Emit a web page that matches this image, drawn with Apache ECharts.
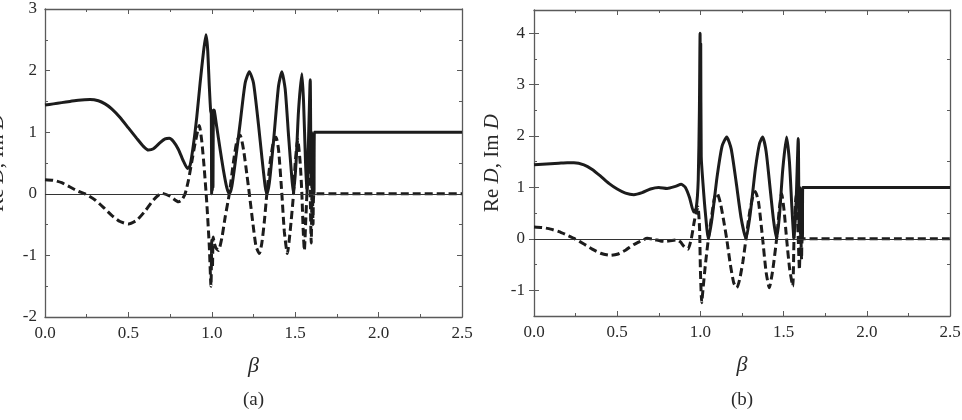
<!DOCTYPE html>
<html>
<head>
    <meta charset="utf-8">
    <title>Re D, Im D</title>
    <script src="https://cdn.jsdelivr.net/npm/echarts@6/dist/echarts.min.js"></script>
    <style>
        html, body { margin: 0; padding: 0; background: #fff; }
        #chart { width: 962px; height: 420px; }
    </style>
</head>
<body>
<div id="chart"></div>
<script>
    // panel (a)
    var betaReA = [0, 0.05, 0.1, 0.15, 0.2, 0.27, 0.32, 0.36, 0.4, 0.45, 0.5, 0.55, 0.59, 0.62, 0.65, 0.69, 0.72, 0.745, 0.77, 0.8, 0.83, 0.855, 0.87, 0.89, 0.91, 0.93, 0.95, 0.965, 0.975, 0.985, 0.993, 0.997, 0.999, 1.001, 1.003, 1.005, 1.007, 1.01, 1.015, 1.03, 1.05, 1.07, 1.09, 1.105, 1.12, 1.14, 1.17, 1.2, 1.225, 1.25, 1.28, 1.3, 1.32, 1.33, 1.345, 1.37, 1.4, 1.42, 1.44, 1.46, 1.48, 1.49, 1.505, 1.52, 1.54, 1.55, 1.562, 1.57, 1.58, 1.59, 1.595, 1.598, 1.601, 1.604, 1.607, 1.61, 1.613, 1.615, 2.5];
    var reA = [1.44, 1.46, 1.48, 1.50, 1.52, 1.53, 1.51, 1.46, 1.38, 1.24, 1.07, 0.90, 0.77, 0.71, 0.73, 0.83, 0.89, 0.90, 0.85, 0.72, 0.53, 0.41, 0.46, 0.8, 1.25, 1.8, 2.3, 2.58, 2.35, 1.75, 1.35, 1.3, 0.0, 1.3, 0.05, 1.35, 0.1, 1.36, 1.35, 1.08, 0.72, 0.38, 0.1, 0.0, 0.12, 0.5, 1.15, 1.8, 1.98, 1.8, 1.12, 0.6, 0.12, 0.0, 0.18, 0.85, 1.75, 1.98, 1.7, 0.95, 0.25, 0.0, 0.5, 1.35, 1.95, 1.5, 0.5, 0.0, 0.9, 1.85, 0.2, 1.0, 0.1, 0.95, 0.05, 0.9, 0.0, 1.0, 1.0];
    var betaImA = [0, 0.05, 0.1, 0.15, 0.2, 0.24, 0.3, 0.35, 0.4, 0.45, 0.5, 0.55, 0.6, 0.65, 0.7, 0.75, 0.8, 0.82, 0.84, 0.86, 0.88, 0.9, 0.925, 0.94, 0.955, 0.97, 0.985, 0.995, 1.0, 1.004, 1.008, 1.015, 1.025, 1.04, 1.06, 1.08, 1.105, 1.13, 1.15, 1.17, 1.19, 1.21, 1.225, 1.245, 1.265, 1.285, 1.3, 1.315, 1.33, 1.35, 1.37, 1.385, 1.4, 1.42, 1.435, 1.453, 1.47, 1.49, 1.5, 1.515, 1.53, 1.54, 1.548, 1.555, 1.563, 1.57, 1.578, 1.584, 1.59, 1.596, 1.602, 1.607, 1.613, 2.5];
    var imA = [0.23, 0.22, 0.18, 0.11, 0.04, 0.0, -0.1, -0.22, -0.35, -0.45, -0.49, -0.43, -0.28, -0.1, 0.01, -0.04, -0.13, -0.1, 0.0, 0.22, 0.52, 0.82, 1.11, 0.85, 0.4, -0.15, -0.85, -1.5, -0.75, -1.2, -0.7, -0.8, -0.88, -0.92, -0.72, -0.38, 0.0, 0.52, 0.85, 0.95, 0.72, 0.32, 0.0, -0.45, -0.85, -0.97, -0.8, -0.45, 0.0, 0.52, 0.85, 0.92, 0.72, 0.0, -0.62, -0.97, -0.6, 0.0, 0.5, 0.88, 0.5, 0.0, -0.6, -0.92, -0.45, 0.0, 0.7, 0.85, 0.0, -0.8, 0.3, -0.5, 0.0, 0.0];

    // panel (b)
    var betaReB = [0, 0.05, 0.1, 0.15, 0.2, 0.24, 0.3, 0.35, 0.4, 0.45, 0.5, 0.55, 0.6, 0.65, 0.7, 0.75, 0.8, 0.85, 0.885, 0.91, 0.935, 0.96, 0.975, 0.987, 0.994, 0.998, 1.0, 1.002, 1.005, 1.015, 1.03, 1.048, 1.07, 1.1, 1.13, 1.158, 1.185, 1.215, 1.245, 1.274, 1.3, 1.33, 1.355, 1.374, 1.395, 1.42, 1.44, 1.458, 1.475, 1.495, 1.518, 1.535, 1.55, 1.5625, 1.575, 1.588, 1.593, 1.597, 1.601, 1.605, 1.609, 1.613, 1.615, 2.5];
    var reB = [1.44, 1.45, 1.46, 1.47, 1.48, 1.48, 1.44, 1.35, 1.22, 1.08, 0.97, 0.89, 0.86, 0.9, 0.97, 1.0, 0.98, 1.02, 1.06, 1.0, 0.8, 0.52, 0.6, 1.15, 2.5, 4.0, 2.0, 3.8, 1.6, 1.1, 0.5, 0.0, 0.4, 1.2, 1.8, 1.98, 1.75, 1.1, 0.4, 0.0, 0.5, 1.35, 1.85, 1.98, 1.7, 0.95, 0.35, 0.0, 0.45, 1.35, 1.98, 1.5, 0.6, 0.0, 0.7, 1.95, 0.2, 1.0, 0.1, 0.95, 0.05, 0.0, 1.0, 1.0];
    var betaImB = [0, 0.05, 0.1, 0.15, 0.2, 0.246, 0.3, 0.35, 0.4, 0.457, 0.5, 0.55, 0.6, 0.65, 0.68, 0.72, 0.76, 0.79, 0.83, 0.86, 0.88, 0.9, 0.925, 0.945, 0.965, 0.985, 0.995, 1.0, 1.008, 1.015, 1.03, 1.048, 1.07, 1.085, 1.1, 1.12, 1.14, 1.158, 1.18, 1.2, 1.218, 1.235, 1.255, 1.274, 1.295, 1.315, 1.33, 1.35, 1.374, 1.395, 1.414, 1.435, 1.458, 1.475, 1.488, 1.503, 1.518, 1.537, 1.555, 1.5625, 1.575, 1.582, 1.588, 1.595, 1.602, 1.608, 1.613, 2.5];
    var imB = [0.23, 0.22, 0.19, 0.14, 0.07, 0.0, -0.1, -0.2, -0.28, -0.32, -0.3, -0.22, -0.11, -0.03, 0.01, -0.01, -0.04, -0.05, -0.03, -0.02, -0.06, -0.14, -0.2, 0.0, 0.37, 0.62, 0.2, -0.6, -1.24, -1.0, -0.5, 0.0, 0.5, 0.8, 0.89, 0.7, 0.35, 0.0, -0.5, -0.85, -0.95, -0.8, -0.45, 0.0, 0.5, 0.82, 0.92, 0.7, 0.0, -0.65, -0.95, -0.6, 0.0, 0.6, 0.88, 0.55, 0.0, -0.6, -0.92, 0.0, 0.85, 0.5, 0.0, -0.6, 0.3, -0.4, 0.0, 0.0];

    var yTicksB = [-1, 0, 1, 2, 3, 4];
    var yMinorB = [-1.5, -0.5, 0.5, 1.5, 2.5, 3.5];

    function zip(xs, ys) {
        var out = [];
        for (var i = 0; i < xs.length; i++) out.push([xs[i], ys[i]]);
        return out;
    }

    var serif = '"Times New Roman", "Liberation Serif", Times, serif';
    var ink = '#1c1c1c';
    var axisCol = '#5a5a5a';
    var labelStyle = {fontFamily: serif, fontSize: 17, color: '#2a2a2a'};

    function xAx(grid, pos, labels) {
        return {
            type: 'value', gridIndex: grid, position: pos, min: 0, max: 2.5, interval: 0.5,
            axisLine: {show: true, onZero: false, lineStyle: {color: axisCol, width: 1.3}},
            axisTick: {show: true, inside: true, length: 5, lineStyle: {color: axisCol}},
            minorTick: {show: true, splitNumber: 2, length: 3, lineStyle: {color: axisCol}},
            splitLine: {show: false},
            axisLabel: labels ? Object.assign({show: true, margin: 8, formatter: function (v) { return v.toFixed(1); }}, labelStyle) : {show: false},
            name: labels ? 'β' : '', nameLocation: 'middle', nameGap: 38,
            nameTextStyle: {fontFamily: serif, fontSize: 22, fontStyle: 'italic', color: '#2a2a2a'}
        };
    }

    var yName = 'Re {i|D}, Im {i|D}';
    var yNameStyle = {
        fontFamily: serif, fontSize: 21, color: '#2a2a2a',
        rich: {i: {fontFamily: serif, fontSize: 21, fontStyle: 'italic', color: '#2a2a2a'}}
    };

    var chart = echarts.init(document.getElementById('chart'));
    var option = {
        backgroundColor: '#fff',
        animation: false,
        grid: [
            {left: 45, top: 9, width: 417, height: 308, outerBoundsMode: 'none', containLabel: false},
            {left: 534, top: 10, width: 416, height: 306, outerBoundsMode: 'none', containLabel: false}
        ],
        xAxis: [xAx(0, 'bottom', true), xAx(0, 'top', false), xAx(1, 'bottom', true), xAx(1, 'top', false)],
        yAxis: [
            {
                type: 'value', gridIndex: 0, position: 'left', min: -2, max: 3, interval: 1,
                axisLine: {show: true, onZero: false, lineStyle: {color: axisCol, width: 1.3}},
                axisTick: {show: true, inside: true, length: 5, lineStyle: {color: axisCol}},
                minorTick: {show: true, splitNumber: 2, length: 3, lineStyle: {color: axisCol}},
                splitLine: {show: false},
                axisLabel: Object.assign({margin: 8}, labelStyle),
                name: yName, nameLocation: 'middle', nameGap: 37, nameTextStyle: yNameStyle
            },
            {
                type: 'value', gridIndex: 0, position: 'right', min: -2, max: 3, interval: 1,
                axisLine: {show: true, onZero: false, lineStyle: {color: axisCol, width: 1.3}},
                axisTick: {show: true, inside: true, length: 5, lineStyle: {color: axisCol}},
                minorTick: {show: true, splitNumber: 2, length: 3, lineStyle: {color: axisCol}},
                splitLine: {show: false}, axisLabel: {show: false}
            },
            {
                type: 'value', gridIndex: 1, position: 'left', min: -1.5, max: 4.45, interval: 0.5,
                axisLine: {show: true, onZero: false, lineStyle: {color: axisCol, width: 1.3}},
                axisTick: {show: true, inside: true, length: 3, customValues: yMinorB, lineStyle: {color: axisCol}},
                splitLine: {show: false},
                axisLabel: Object.assign({margin: 9, customValues: yTicksB}, labelStyle),
                name: yName, nameLocation: 'middle', nameGap: 31, nameTextStyle: yNameStyle
            },
            {
                type: 'value', gridIndex: 1, position: 'right', min: -1.5, max: 4.45, interval: 0.5,
                axisLine: {show: true, onZero: false, lineStyle: {color: axisCol, width: 1.3}},
                axisTick: {show: true, inside: true, length: 3, customValues: yMinorB, lineStyle: {color: axisCol}},
                splitLine: {show: false}, axisLabel: {show: false}
            },
            {
                type: 'value', gridIndex: 1, position: 'left', min: -1.5, max: 4.45,
                axisLine: {show: false},
                axisTick: {show: true, inside: true, length: 5, customValues: yTicksB, lineStyle: {color: axisCol}},
                splitLine: {show: false}, axisLabel: {show: false}
            },
            {
                type: 'value', gridIndex: 1, position: 'right', min: -1.5, max: 4.45,
                axisLine: {show: false},
                axisTick: {show: true, inside: true, length: 5, customValues: yTicksB, lineStyle: {color: axisCol}},
                splitLine: {show: false}, axisLabel: {show: false}
            }
        ],
        graphic: [
            {type: 'text', left: 243, top: 391, style: {text: '(a)', font: '19px "Times New Roman", "Liberation Serif", serif', fill: '#2a2a2a'}},
            {type: 'text', left: 731, top: 391, style: {text: '(b)', font: '19px "Times New Roman", "Liberation Serif", serif', fill: '#2a2a2a'}}
        ],
        series: [
            {
                type: 'line', xAxisIndex: 0, yAxisIndex: 0, data: zip(betaReA, reA),
                showSymbol: false, smooth: 0.2, lineStyle: {color: ink, width: 3},
                markLine: {
                    silent: true, symbol: 'none', label: {show: false},
                    lineStyle: {color: '#333', width: 1, type: 'solid'}, data: [{yAxis: 0}]
                }
            },
            {
                type: 'line', xAxisIndex: 0, yAxisIndex: 0, data: zip(betaImA, imA),
                showSymbol: false, smooth: 0.2, lineStyle: {color: ink, width: 3, type: [8, 4]}
            },
            {
                type: 'line', xAxisIndex: 2, yAxisIndex: 2, data: zip(betaReB, reB),
                showSymbol: false, smooth: 0.2, lineStyle: {color: ink, width: 3},
                markLine: {
                    silent: true, symbol: 'none', label: {show: false},
                    lineStyle: {color: '#333', width: 1, type: 'solid'}, data: [{yAxis: 0}]
                }
            },
            {
                type: 'line', xAxisIndex: 2, yAxisIndex: 2, data: zip(betaImB, imB),
                showSymbol: false, smooth: 0.2, lineStyle: {color: ink, width: 3, type: [8, 4]}
            }
        ]
    };
    chart.setOption(option);
</script>
</body>
</html>
